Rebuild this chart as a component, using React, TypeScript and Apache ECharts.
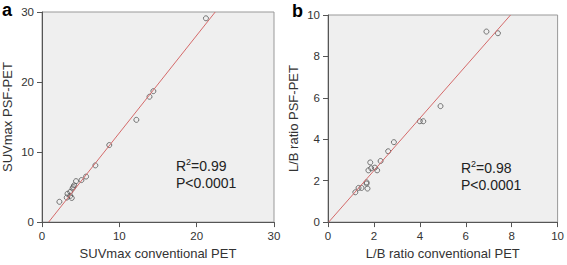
import React, { useEffect, useRef } from "react";
import * as echarts from "echarts";

const suvPoints: number[][] = [
  [21.2, 29.1], [14.4, 18.7], [13.9, 17.9], [12.2, 14.6], [8.7, 11.0],
  [6.9, 8.1], [5.7, 6.5], [5.1, 6.0], [4.4, 5.85], [4.15, 5.25],
  [4.05, 5.0], [3.95, 4.8], [3.65, 4.3], [3.3, 4.05], [3.65, 3.75],
  [3.2, 3.5], [3.85, 3.45], [2.25, 2.9],
];
const suvFit: number[][] = [[0.86, 0], [22.4, 30]];

const lbPoints: number[][] = [
  [6.9, 9.2], [7.4, 9.12], [4.9, 5.6], [4.0, 4.87], [4.15, 4.87],
  [2.87, 3.86], [2.62, 3.42], [2.29, 2.95], [1.84, 2.88], [1.88, 2.6],
  [1.76, 2.5], [2.04, 2.63], [2.14, 2.5], [1.68, 1.92], [1.68, 1.86],
  [1.72, 1.62], [1.46, 1.65], [1.33, 1.65], [1.19, 1.44],
];
const lbFit: number[][] = [[0.03, 0], [7.95, 10]];

const suvTicks = { min: 0, max: 30, interval: 10 };
const lbTicks = { min: 0, max: 10, interval: 2 };

const FONT = "Liberation Sans, Arial, sans-serif";

function axisCommon(
  name: string,
  ticks: { min: number; max: number; interval: number },
  gap: number,
  labelMargin: number
) {
  return {
    type: "value",
    name,
    nameLocation: "middle",
    nameGap: gap,
    nameTextStyle: { fontSize: 13, color: "#333", fontFamily: FONT },
    min: ticks.min,
    max: ticks.max,
    interval: ticks.interval,
    axisLine: { show: true, lineStyle: { color: "#555", width: 1 } },
    axisTick: { show: true, length: 5, lineStyle: { color: "#555" } },
    axisLabel: { fontSize: 11.5, color: "#333", fontFamily: FONT, margin: labelMargin },
    splitLine: { show: false },
  };
}

const statRich = {
  sup: { fontSize: 9, fontFamily: FONT, fill: "#222", verticalAlign: "top", padding: [0, 0, 6, 0] },
  n: { fontSize: 14, fontFamily: FONT, fill: "#222" },
};

export default function App() {
  const ref = useRef<HTMLDivElement>(null);
  useEffect(() => {
    if (!ref.current) return;
    const chart = echarts.init(ref.current, null, { renderer: "svg" });
    const scatterStyle = {
      color: "rgba(0,0,0,0)",
      borderColor: "#555",
      borderWidth: 1,
    };
    const fitStyle = { color: "#d46a6a", width: 1 };
    chart.setOption({
      animation: false,
      backgroundColor: "#fff",
      grid: [
        { left: 42, right: 293, top: 12, bottom: 39, show: true, backgroundColor: "#efefef", borderColor: "#999", borderWidth: 1 },
        { left: 328, right: 6, top: 15, bottom: 38, show: true, backgroundColor: "#efefef", borderColor: "#999", borderWidth: 1 },
      ],
      xAxis: [
        { ...axisCommon("SUVmax conventional PET", suvTicks, 23, 8), gridIndex: 0 },
        { ...axisCommon("L/B ratio conventional PET", lbTicks, 23, 8), gridIndex: 1 },
      ],
      yAxis: [
        { ...axisCommon("SUVmax PSF-PET", suvTicks, 28, 8), gridIndex: 0 },
        { ...axisCommon("L/B ratio PSF-PET", lbTicks, 28, 8), gridIndex: 1 },
      ],
      series: [
        { type: "line", xAxisIndex: 0, yAxisIndex: 0, data: suvFit, showSymbol: false, lineStyle: fitStyle, silent: true },
        { type: "scatter", xAxisIndex: 0, yAxisIndex: 0, data: suvPoints, symbol: "circle", symbolSize: 5, itemStyle: scatterStyle },
        { type: "line", xAxisIndex: 1, yAxisIndex: 1, data: lbFit, showSymbol: false, lineStyle: fitStyle, silent: true },
        { type: "scatter", xAxisIndex: 1, yAxisIndex: 1, data: lbPoints, symbol: "circle", symbolSize: 5, itemStyle: scatterStyle },
      ],
      graphic: [
        { type: "text", left: 2, top: 1, style: { text: "a", font: `bold 18px ${FONT}`, fill: "#000" } },
        { type: "text", left: 292, top: 2, style: { text: "b", font: `bold 18px ${FONT}`, fill: "#000" } },
        { type: "text", left: 176, top: 157, style: { text: "{n|R}{sup|2}{n|=0.99}\n{n|P<0.0001}", rich: statRich, lineHeight: 17 } },
        { type: "text", left: 461, top: 159, style: { text: "{n|R}{sup|2}{n|=0.98}\n{n|P<0.0001}", rich: statRich, lineHeight: 17 } },
      ],
    });
    return () => chart.dispose();
  }, []);
  return (
    <div
      ref={ref}
      style={{ position: "fixed", left: 0, top: 0, width: 567, height: 265 }}
    />
  );
}
